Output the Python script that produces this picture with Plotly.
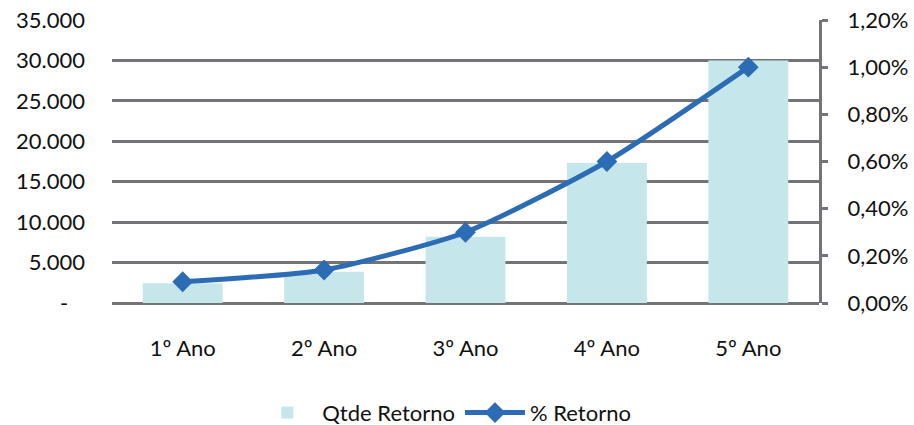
import plotly.graph_objects as go

categories = ["1º Ano", "2º Ano", "3º Ano", "4º Ano", "5º Ano"]
qtde_retorno = [2450, 3850, 8200, 17300, 30000]
pct_retorno = [0.0009, 0.0014, 0.0030, 0.0060, 0.0100]

left_tickvals = [0, 5000, 10000, 15000, 20000, 25000, 30000, 35000]
left_ticktext = ["-\u00a0\u00a0\u00a0", "5.000", "10.000", "15.000", "20.000", "25.000", "30.000", "35.000"]
right_tickvals = [0, 0.002, 0.004, 0.006, 0.008, 0.010, 0.012]
right_ticktext = ["0,00%", "0,20%", "0,40%", "0,60%", "0,80%", "1,00%", "1,20%"]

BAR = "#c5e7eb"
LINE = "#2c6cb5"
GRID = "#727477"
TXT = "#111111"
FONT = "Lato, 'Open Sans', sans-serif"

fig = go.Figure()
fig.add_trace(go.Bar(
    x=categories, y=qtde_retorno, name="Qtde Retorno",
    marker=dict(color=BAR, line=dict(width=0)),
    yaxis="y",
))
fig.add_trace(go.Scatter(
    x=categories, y=pct_retorno, name="% Retorno",
    mode="lines+markers",
    line=dict(color=LINE, width=5, shape="spline", smoothing=0.6),
    marker=dict(symbol="diamond", size=16, color=LINE),
    yaxis="y2",
))

fig.update_layout(
    width=914, height=425,
    margin=dict(l=112, r=95, t=20, b=122, autoexpand=False),
    paper_bgcolor="white", plot_bgcolor="white",
    font=dict(family=FONT, size=22, color=TXT),
    bargap=0.435,
    showlegend=True,
    legend=dict(orientation="h", x=0.47, xanchor="center", y=-0.388, yanchor="middle",
                font=dict(size=22, color=TXT), itemwidth=60, traceorder="normal"),
    xaxis=dict(showgrid=False, showline=False, zeroline=False, ticks="",
               ticklabelstandoff=30, tickfont=dict(size=22, color=TXT)),
    yaxis=dict(range=[0, 35000], tickvals=left_tickvals, ticktext=left_ticktext,
               showgrid=True, gridcolor=GRID, gridwidth=3,
               zeroline=True, zerolinecolor=GRID, zerolinewidth=3,
               showline=False, ticks="", ticklabelstandoff=26,
               tickfont=dict(size=22, color=TXT)),
    yaxis2=dict(range=[0, 0.012], tickvals=right_tickvals, ticktext=right_ticktext,
                overlaying="y", side="right", showgrid=False, zeroline=False,
                showline=True, linecolor=GRID, linewidth=3,
                ticks="outside", ticklen=6, tickwidth=3, tickcolor=GRID,
                ticklabelstandoff=15, tickfont=dict(size=22, color=TXT)),
)

fig.write_html("out.html")
